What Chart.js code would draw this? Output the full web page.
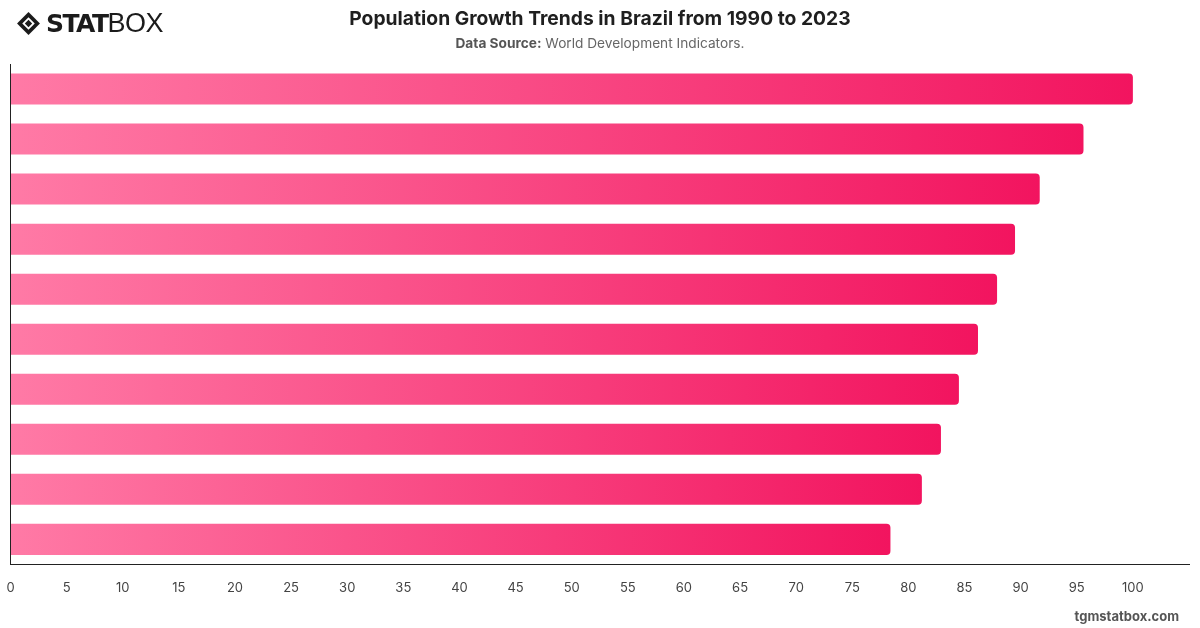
<!DOCTYPE html>
<html>
<head>
<meta charset="utf-8">
<script src="https://cdn.jsdelivr.net/npm/chart.js@4.4.1/dist/chart.umd.min.js"></script>
<style>
    html, body { margin: 0; padding: 0; background: #fff; }
    body { width: 1200px; height: 628px; position: relative; overflow: hidden; font-family: Inter, "Liberation Sans", sans-serif; }
    #chartWrap { position: absolute; left: 0; top: 0; width: 1200px; height: 628px; }
    .logo { position: absolute; left: 16px; top: 8px; display: flex; align-items: center; color: #1b1b1b; }
    .logo .stat { font-family: "DejaVu Sans", sans-serif; font-weight: 900; font-size: 25px; letter-spacing: -1.5px; margin-left: 5px; }
    .logo .box { font-family: "Liberation Sans", sans-serif; font-weight: 300; font-size: 27px; letter-spacing: -0.5px; }
    .title { position: absolute; left: 0; width: 1200px; top: 6px; text-align: center; font-size: 19.3px; font-weight: 700; color: #1f1f1f; }
    .subtitle { position: absolute; left: 0; width: 1200px; top: 35px; text-align: center; font-size: 13.7px; color: #666; }
    .subtitle b { color: #555; }
    .footer { position: absolute; right: 21px; top: 608px; font-size: 13px; font-weight: 700; color: #555; }
</style>
</head>
<body>
<div id="chartWrap"><canvas id="growthChart"></canvas></div>
<div class="logo">
    <svg width="25" height="25" viewBox="0 0 24 24">
        <path d="M12 1 L23 12 L12 23 L1 12 Z" fill="#1b1b1b"/>
        <path d="M12 6 L18 12 L12 18 L6 12 Z" fill="#fff"/>
        <path d="M12 8.5 L15.5 12 L12 15.5 L8.5 12 Z" fill="#1b1b1b"/>
    </svg>
    <span class="stat">STAT</span><span class="box">BOX</span>
</div>
<div class="title">Population Growth Trends in Brazil from 1990 to 2023</div>
<div class="subtitle"><b>Data Source:</b> World Development Indicators.</div>
<div class="footer">tgmstatbox.com</div>

<script>
const categories = ['2023', '2020', '2017', '2014', '2011', '2008', '2005', '2002', '1999', '1990'];
const growthValues = [100, 95.6, 91.7, 89.5, 87.9, 86.2, 84.5, 82.9, 81.2, 78.4];
const xTicksMax = 100;

const barStart = '#ff7aa6';
const barEnd = '#f2145f';

function barGradient(context) {
    const chart = context.chart;
    if (!chart.chartArea || context.type !== 'data') return barEnd;
    const xScale = chart.scales.x;
    const x0 = xScale.getPixelForValue(0);
    const x1 = xScale.getPixelForValue(context.raw);
    if (x1 - x0 < 1) return barEnd;
    const g = chart.ctx.createLinearGradient(x0, 0, x1, 0);
    g.addColorStop(0, barStart);
    g.addColorStop(1, barEnd);
    return g;
}

const ctx = document.getElementById('growthChart').getContext('2d');

new Chart(ctx, {
    type: 'bar',
    data: {
        labels: categories,
        datasets: [{
            label: 'Population growth',
            data: growthValues,
            backgroundColor: barGradient,
            borderRadius: 4,
            borderSkipped: 'start',
            barPercentage: 0.62,
            categoryPercentage: 1
        }]
    },
    options: {
        responsive: true,
        maintainAspectRatio: false,
        animation: false,
        indexAxis: 'y',
        layout: { padding: { left: 10.5, right: 11, top: 64, bottom: 29 } },
        plugins: {
            legend: { display: false },
            tooltip: { enabled: false }
        },
        scales: {
            x: {
                min: 0,
                max: 105,
                grid: { display: true, drawOnChartArea: false, drawTicks: true, tickLength: 13, tickColor: 'rgba(0,0,0,0)' },
                border: { display: true, color: '#222', width: 1 },
                ticks: {
                    stepSize: 5,
                    padding: 3,
                    color: '#444',
                    font: { family: 'Inter', size: 13 },
                    maxRotation: 0,
                    callback: (v) => v > xTicksMax ? '' : v
                }
            },
            y: {
                grid: { display: true, drawOnChartArea: false, drawTicks: false },
                border: { display: true, color: '#222', width: 1 },
                ticks: { display: false }
            }
        }
    }
});
</script>
</body>
</html>
